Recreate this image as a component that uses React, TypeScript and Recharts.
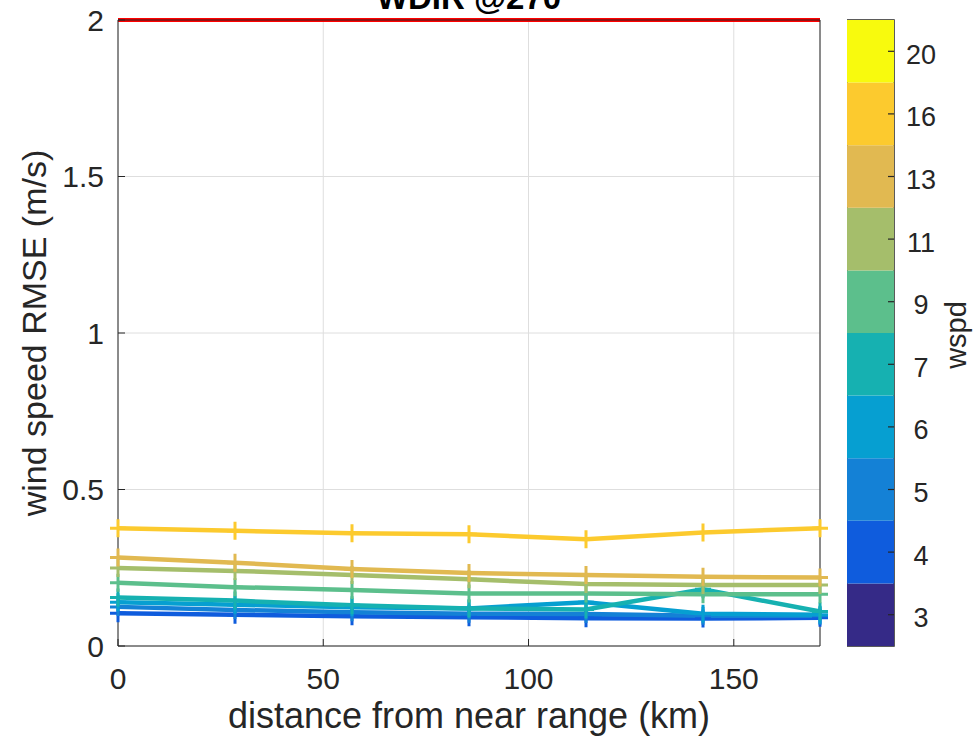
import React from 'react';
import {
  LineChart,
  Line,
  XAxis,
  YAxis,
  CartesianGrid,
  ReferenceLine,
  BarChart,
  Bar,
  ReferenceArea,
} from 'recharts';

// Distance of each sample from near range (km)
const distanceKm = [0, 28.5, 57, 85.5, 114, 142.5, 171];

// Wind speed RMSE (m/s) per wind-speed bin
const rmseW4 = [0.105, 0.1, 0.095, 0.092, 0.089, 0.088, 0.09];
const rmseW5 = [0.125, 0.115, 0.108, 0.103, 0.102, 0.097, 0.097];
const rmseW6 = [0.14, 0.132, 0.124, 0.12, 0.14, 0.103, 0.1];
const rmseW7 = [0.155, 0.145, 0.13, 0.12, 0.117, 0.181, 0.11];
const rmseW9 = [0.202, 0.188, 0.179, 0.168, 0.168, 0.165, 0.165];
const rmseW11 = [0.249, 0.24, 0.227, 0.213, 0.198, 0.195, 0.195];
const rmseW13 = [0.283, 0.266, 0.246, 0.233, 0.227, 0.221, 0.219];
const rmseW16 = [0.376, 0.368, 0.36, 0.357, 0.341, 0.363, 0.376];

// Upper reference level (m/s)
const rmseLimit = 2;

const xTicks = [0, 50, 100, 150];
const yTicks = [0, 0.5, 1, 1.5, 2];

// Colour bar bins
const wspdBins = ['3', '4', '5', '6', '7', '9', '11', '13', '16', '20'];
const binColors = [
  '#352a87',
  '#0f5cdd',
  '#1481d6',
  '#069fd1',
  '#16b1b1',
  '#5cbf8c',
  '#a5be6b',
  '#e1b951',
  '#fcca2e',
  '#f8fa0d',
];

const series = [
  { key: 'w4', bin: '4', values: rmseW4 },
  { key: 'w5', bin: '5', values: rmseW5 },
  { key: 'w6', bin: '6', values: rmseW6 },
  { key: 'w7', bin: '7', values: rmseW7 },
  { key: 'w9', bin: '9', values: rmseW9 },
  { key: 'w11', bin: '11', values: rmseW11 },
  { key: 'w13', bin: '13', values: rmseW13 },
  { key: 'w16', bin: '16', values: rmseW16 },
];

const rows = distanceKm.map((d, i) => {
  const row: Record<string, number> = { distance: d };
  series.forEach((s) => {
    row[s.key] = s.values[i];
  });
  return row;
});

const colorOf = (bin: string) => binColors[wspdBins.indexOf(bin)];

const barRow: Record<string, number | string> = { name: 'wspd' };
wspdBins.forEach((_, i) => {
  barRow[`b${i}`] = 1;
});
const barRows = [barRow];
const binCenters = wspdBins.map((_, i) => i + 0.5);

const FONT = '"Liberation Sans", Arial, Helvetica, sans-serif';
const INK = '#262626';

const PlusMark = (props: any) => {
  const { cx, cy, stroke, index } = props;
  if (cx == null || cy == null) return <g key={`n-${index}`} />;
  return (
    <path
      key={`p-${index}`}
      d={`M${cx - 8},${cy}H${cx + 8}M${cx},${cy - 9}V${cy + 9}`}
      stroke={stroke}
      strokeWidth={3}
      fill="none"
    />
  );
};

const ColorbarTick = (props: any) => {
  const { x, y, index } = props;
  return (
    <g>
      <line x1={x - 6} x2={x} y1={y} y2={y} stroke={INK} strokeWidth={1.2} />
      <text
        x={x + 27}
        y={y + 12.5}
        textAnchor="middle"
        fill={INK}
        fontSize={27}
        fontFamily={FONT}
      >
        {wspdBins[index]}
      </text>
    </g>
  );
};

export default function App() {
  return (
    <div
      style={{
        position: 'absolute',
        left: 0,
        top: 0,
        width: 975,
        height: 737,
        background: '#ffffff',
        overflow: 'hidden',
      }}
    >
      <div style={{ position: 'absolute', left: 0, top: 0 }}>
        <LineChart
          width={975}
          height={737}
          data={rows}
          margin={{ top: 19, right: 154, bottom: 31, left: 0 }}
        >
          <CartesianGrid stroke="#dedede" strokeWidth={1} />
          <XAxis
            dataKey="distance"
            type="number"
            domain={[0, 171]}
            ticks={xTicks}
            height={60}
            tickSize={-7}
            tickMargin={29}
            stroke={INK}
            tick={{ fill: INK, fontSize: 30, fontFamily: FONT }}
          />
          <XAxis
            xAxisId="top"
            orientation="top"
            type="number"
            domain={[0, 171]}
            ticks={xTicks}
            height={1}
            tickSize={-7}
            tick={false}
            stroke={INK}
          />
          <YAxis
            type="number"
            domain={[0, 2]}
            ticks={yTicks}
            width={118}
            tickSize={-7}
            tickMargin={21}
            stroke={INK}
            tick={{ fill: INK, fontSize: 30, fontFamily: FONT }}
          />
          <YAxis
            yAxisId="right"
            orientation="right"
            type="number"
            domain={[0, 2]}
            ticks={yTicks}
            width={1}
            tickSize={-7}
            tick={false}
            stroke={INK}
          />
          {series.map((s) => (
            <Line
              key={s.key}
              dataKey={s.key}
              stroke={colorOf(s.bin)}
              strokeWidth={4.5}
              dot={PlusMark}
              activeDot={false}
              isAnimationActive={false}
            />
          ))}
          <ReferenceLine y={rmseLimit} stroke="#ff0000" strokeWidth={4} />
        </LineChart>
      </div>

      <div style={{ position: 'absolute', left: 847, top: 0 }}>
        <BarChart
          width={128}
          height={737}
          data={barRows}
          barCategoryGap={0}
          barGap={0}
          margin={{ top: 20, right: 0, bottom: 91, left: 0 }}
        >
          <XAxis dataKey="name" hide />
          <YAxis
            orientation="right"
            type="number"
            domain={[0, 10]}
            ticks={binCenters}
            width={81}
            tickSize={0}
            tickMargin={0}
            axisLine={false}
            tickLine={false}
            tick={ColorbarTick}
          />
          {wspdBins.map((_, i) => (
            <Bar
              key={`b${i}`}
              dataKey={`b${i}`}
              stackId="cb"
              fill={binColors[i]}
              isAnimationActive={false}
            />
          ))}
          <ReferenceArea
            y1={0}
            y2={10}
            fill="none"
            fillOpacity={0}
            stroke={INK}
            strokeWidth={1.5}
          />
        </BarChart>
      </div>

      <svg
        width={975}
        height={737}
        style={{ position: 'absolute', left: 0, top: 0, pointerEvents: 'none' }}
      >
        <text
          x={469}
          y={9}
          textAnchor="middle"
          fontWeight="bold"
          fontSize={33}
          fontFamily={FONT}
          fill="#000000"
        >
          WDIR @270
        </text>
        <text
          x={469}
          y={728}
          textAnchor="middle"
          fontSize={36}
          fontFamily={FONT}
          fill={INK}
        >
          distance from near range (km)
        </text>
        <text
          transform="translate(46,333) rotate(-90)"
          textAnchor="middle"
          fontSize={34}
          fontFamily={FONT}
          fill={INK}
        >
          wind speed RMSE (m/s)
        </text>
        <text
          transform="translate(966,335) rotate(-90)"
          textAnchor="middle"
          fontSize={29}
          fontFamily={FONT}
          fill={INK}
        >
          wspd
        </text>
      </svg>
    </div>
  );
}
